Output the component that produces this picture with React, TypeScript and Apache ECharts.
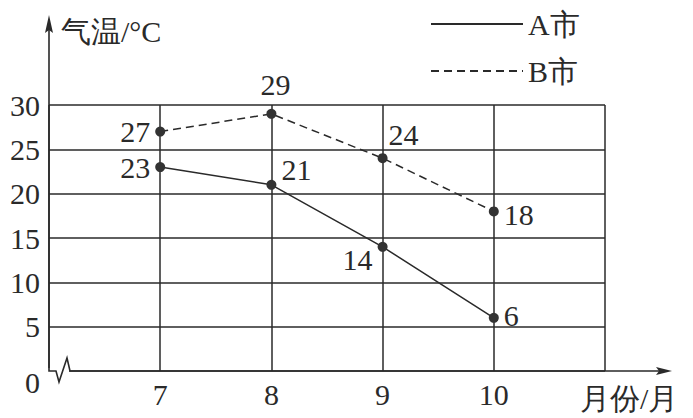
import React, { useEffect, useRef } from "react";
import * as echarts from "echarts";

const months = [7, 8, 9, 10];
const cityA = [23, 21, 14, 6];
const cityB = [27, 29, 24, 18];
const seriesNames = ["A市", "B市"];
const yAxisName = "气温/°C";
const xAxisName = "月份/月";

const FONT = "Liberation Serif";
const INK = "#2a2a2a";

// layout (style only)
const W = 693;
const H = 418;
const GRID = { left: 49, right: 88, top: 105, bottom: 47 };

// label placement per point (style only)
const labelA: any[] = [
  { position: "left" },
  { position: "right", offset: [0, -15] },
  { position: "left", offset: [0, 13] },
  { position: "right", offset: [0, -2] },
];
const labelB: any[] = [
  { position: "left" },
  { position: "top", offset: [4, -4] },
  { position: "right", offset: [-4, -24] },
  { position: "right", offset: [0, 3] },
];

export default function App() {
  const ref = useRef<HTMLDivElement>(null);
  useEffect(() => {
    if (!ref.current) return;
    const chart = echarts.init(ref.current, null, { renderer: "svg" });
    const mk = (vals: number[], labels: any[]) =>
      vals.map((v, i) => ({ value: [months[i], v], label: labels[i] }));
    const x0 = GRID.left;
    const y0 = H - GRID.bottom;
    const xEnd = 672;
    const yTop = 15;
    chart.setOption({
      animation: false,
      grid: GRID,
      legend: {
        left: 425,
        top: 4,
        orient: "vertical",
        itemWidth: 92,
        itemHeight: 20,
        itemGap: 17,
        itemStyle: { opacity: 0 },
        textStyle: { fontSize: 30, fontFamily: FONT, color: INK },
        data: seriesNames,
      },
      xAxis: {
        type: "value",
        min: 6,
        max: 11,
        interval: 1,
        name: xAxisName,
        nameLocation: "end",
        nameGap: -25,
        nameTextStyle: { fontSize: 30, fontFamily: FONT, color: INK, align: "left", verticalAlign: "top", padding: [12, 0, 0, 0] },
        axisLine: { show: false },
        axisTick: { show: false },
        axisLabel: {
          margin: 8,
          fontSize: 30,
          fontFamily: FONT,
          color: INK,
          formatter: (v: number) => (months.indexOf(v) >= 0 ? String(v) : ""),
        },
        splitLine: { show: true, lineStyle: { color: INK, width: 1.5 } },
      },
      yAxis: {
        type: "value",
        min: 0,
        max: 30,
        interval: 5,
        name: yAxisName,
        nameLocation: "end",
        nameGap: 74,
        nameTextStyle: { fontSize: 30, fontFamily: FONT, color: INK, align: "left", verticalAlign: "middle", padding: [0, 0, 0, 12] },
        axisLine: { show: false },
        axisTick: { show: false },
        axisLabel: {
          margin: 9,
          fontSize: 30,
          fontFamily: FONT,
          color: INK,
          formatter: (v: number) => (v === 0 ? "{z|0}" : String(v)),
          rich: { z: { fontSize: 30, fontFamily: FONT, color: INK, padding: [22, 0, 0, 0] } },
        },
        splitLine: { show: true, lineStyle: { color: INK, width: 1.5 } },
      },
      graphic: [
        { type: "rect", shape: { x: x0 - 2, y: y0 - 3, width: 22, height: 6 }, style: { fill: "#fff" }, z: 10 },
        {
          type: "polyline",
          shape: {
            points: [
              [x0, yTop + 10],
              [x0, y0],
              [x0 + 7, y0],
              [x0 + 10, y0 + 11],
              [x0 + 18, y0 - 13],
              [x0 + 21, y0],
              [xEnd - 8, y0],
            ],
          },
          style: { stroke: INK, lineWidth: 1.6, fill: "none" },
          z: 11,
        },
        {
          type: "polygon",
          shape: { points: [[x0, yTop], [x0 - 4, yTop + 18], [x0, yTop + 15], [x0 + 4, yTop + 18]] },
          style: { fill: INK },
          z: 11,
        },
        {
          type: "polygon",
          shape: { points: [[xEnd, y0], [xEnd - 16, y0 - 4], [xEnd - 13, y0], [xEnd - 16, y0 + 4]] },
          style: { fill: INK },
          z: 11,
        },
      ],
      series: [
        {
          name: seriesNames[0],
          type: "line",
          data: mk(cityA, labelA),
          symbol: "circle",
          symbolSize: 10,
          itemStyle: { color: "#333" },
          lineStyle: { color: INK, width: 1.5, type: "solid" },
          label: { show: true, fontSize: 30, fontFamily: FONT, color: INK, distance: 5 },
          z: 5,
        },
        {
          name: seriesNames[1],
          type: "line",
          data: mk(cityB, labelB),
          symbol: "circle",
          symbolSize: 10,
          itemStyle: { color: "#333" },
          lineStyle: { color: INK, width: 1.5, type: [8, 5] },
          label: { show: true, fontSize: 30, fontFamily: FONT, color: INK, distance: 5 },
          z: 5,
        },
      ],
    });
    return () => chart.dispose();
  }, []);
  return <div ref={ref} style={{ width: W, height: H, position: "absolute", left: 0, top: 0 }} />;
}
